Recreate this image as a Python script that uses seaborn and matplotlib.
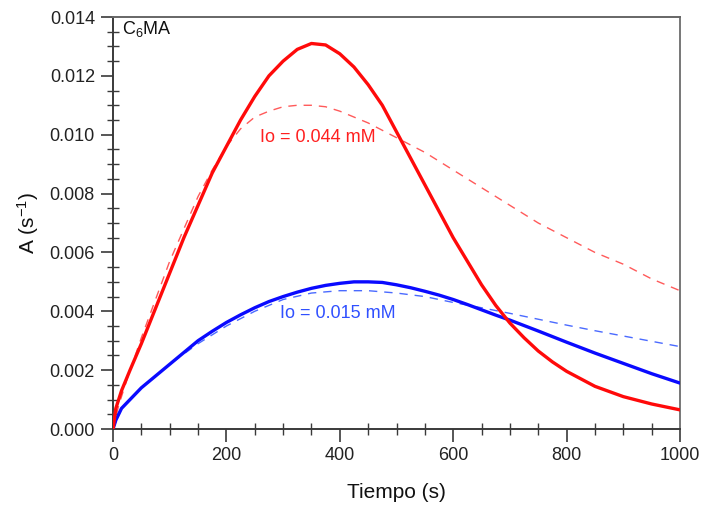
import matplotlib
matplotlib.use("Agg")
import matplotlib.pyplot as plt
from matplotlib.ticker import MultipleLocator, FormatStrFormatter
import seaborn as sns
import pandas as pd

# ---- data ----
t_red = [0, 5, 15, 30, 50, 75, 100, 125, 150, 175, 200, 225, 250, 275, 300, 325, 350,
         375, 400, 425, 450, 475, 500, 525, 550, 575, 600, 625, 650, 675, 700, 725, 750,
         775, 800, 850, 900, 950, 1000]
a_red = [0, 0.0007, 0.0013, 0.0020, 0.0029, 0.0041, 0.0053, 0.0065, 0.0076, 0.0087,
         0.0096, 0.0105, 0.0113, 0.0120, 0.0125, 0.0129, 0.0131, 0.01305, 0.01275, 0.0123,
         0.0117, 0.0110, 0.0101, 0.0092, 0.0083, 0.0074, 0.0065, 0.0057, 0.0049, 0.0042,
         0.0036, 0.0031, 0.00265, 0.00228, 0.00196, 0.00145, 0.00110, 0.00085, 0.00065]

t_red_fit = [0, 10, 25, 50, 75, 100, 125, 150, 175, 200, 225, 250, 275, 300, 325, 350,
             375, 400, 450, 500, 550, 600, 650, 700, 750, 800, 850, 900, 950, 1000]
a_red_fit = [0, 0.0008, 0.0017, 0.0031, 0.0044, 0.0057, 0.0068, 0.0079, 0.0088, 0.0096,
             0.0102, 0.0106, 0.0108, 0.01095, 0.0110, 0.0110, 0.01095, 0.0108, 0.0104,
             0.0099, 0.0094, 0.0088, 0.0082, 0.0076, 0.0070, 0.0065, 0.0060, 0.0056,
             0.0051, 0.0047]

t_blue = [0, 5, 15, 30, 50, 75, 100, 125, 150, 175, 200, 225, 250, 275, 300, 325, 350,
          375, 400, 425, 450, 475, 500, 525, 550, 575, 600, 625, 650, 675, 700, 750, 800,
          850, 900, 950, 1000]
a_blue = [0, 0.0003, 0.0007, 0.0010, 0.0014, 0.0018, 0.0022, 0.0026, 0.0030, 0.00332,
          0.00362, 0.00388, 0.00412, 0.00433, 0.0045, 0.00465, 0.00478, 0.00488, 0.00495,
          0.0050, 0.0050, 0.00498, 0.0049, 0.0048, 0.00468, 0.00455, 0.0044, 0.00423,
          0.00405, 0.00387, 0.0037, 0.00333, 0.00295, 0.00258, 0.00223, 0.00188, 0.00156]

t_blue_fit = [0, 15, 50, 100, 150, 200, 250, 300, 350, 400, 450, 500, 550, 600, 650, 700,
              750, 800, 850, 900, 950, 1000]
a_blue_fit = [0, 0.0007, 0.0014, 0.0022, 0.0029, 0.0035, 0.0040, 0.0044, 0.00462, 0.0047,
              0.0047, 0.00462, 0.0045, 0.0043, 0.00412, 0.00393, 0.00373, 0.00353, 0.00334,
              0.00316, 0.00298, 0.0028]

label_red = "Io = 0.044 mM"
label_blue = "Io = 0.015 mM"
panel_label = "C$_6$MA"
x_ticks = [0, 200, 400, 600, 800, 1000]
y_ticks = [0.000, 0.002, 0.004, 0.006, 0.008, 0.010, 0.012, 0.014]

# ---- plotting ----
sns.set_style("ticks")
plt.rcParams["font.family"] = ["Liberation Sans", "DejaVu Sans"]
plt.rcParams["mathtext.fontset"] = "custom"
plt.rcParams["mathtext.rm"] = "Liberation Sans"
plt.rcParams["mathtext.it"] = "Liberation Sans"

fig = plt.figure(figsize=(7.01, 5.08), dpi=100)
ax = fig.add_axes([113 / 701, 1 - 429 / 508, (680 - 113) / 701, (429 - 17) / 508])

df_rs = pd.DataFrame({"t": t_red, "A": a_red})
df_rf = pd.DataFrame({"t": t_red_fit, "A": a_red_fit})
df_bs = pd.DataFrame({"t": t_blue, "A": a_blue})
df_bf = pd.DataFrame({"t": t_blue_fit, "A": a_blue_fit})

sns.lineplot(data=df_rf, x="t", y="A", ax=ax, color="#ff5a5a", lw=1.0,
             linestyle=(0, (6, 5)), zorder=2)
sns.lineplot(data=df_bf, x="t", y="A", ax=ax, color="#4a6aff", lw=1.0,
             linestyle=(0, (6, 5)), zorder=2)
sns.lineplot(data=df_bs, x="t", y="A", ax=ax, color="#0a0aff", lw=2.4, zorder=3,
             solid_joinstyle="round", solid_capstyle="round")
sns.lineplot(data=df_rs, x="t", y="A", ax=ax, color="#ff0a0a", lw=2.4, zorder=3,
             solid_joinstyle="round", solid_capstyle="round")

ax.set_xlim(0, 1000)
ax.set_ylim(0, 0.014)
ax.set_xticks(x_ticks)
ax.set_yticks(y_ticks)
ax.yaxis.set_major_formatter(FormatStrFormatter("%.3f"))
ax.xaxis.set_minor_locator(MultipleLocator(50))
ax.yaxis.set_minor_locator(MultipleLocator(0.0005))

for s in ax.spines.values():
    s.set_visible(True)
    s.set_color("#3a3a3a")
    s.set_linewidth(1.4)
ax.spines["right"].set_color("#777777")
ax.spines["top"].set_color("#666666")

ax.tick_params(which="major", direction="out", length=9, width=1.2, color="#3a3a3a",
               labelsize=13, labelcolor="#222222", pad=4)
ax.tick_params(which="minor", direction="inout", length=9, width=1.0, color="#3a3a3a")
ax.tick_params(top=False, right=False, which="both")

ax.set_xlabel("Tiempo (s)", fontsize=15, color="#111111", labelpad=14)
ax.set_ylabel("A (s$^{-1}$)", fontsize=15, color="#111111", labelpad=6)

ax.text(362, 0.00992, label_red, color="#ff2020", fontsize=13, ha="center", va="center")
ax.text(397, 0.00394, label_blue, color="#3050ff", fontsize=13, ha="center", va="center")
ax.text(15, 0.0136, panel_label, color="#111111", fontsize=13, ha="left", va="center")

fig.savefig("out.png", dpi=100)
